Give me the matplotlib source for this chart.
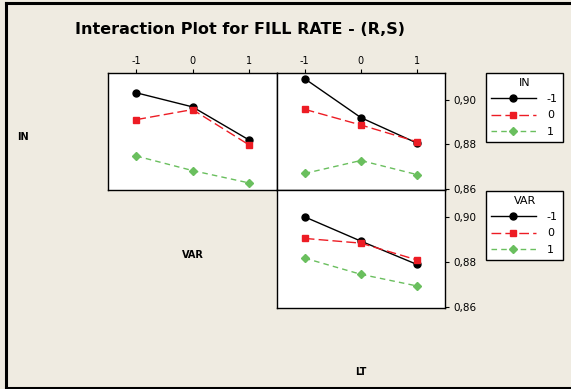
import matplotlib
matplotlib.use('Agg')
import matplotlib.pyplot as plt
from matplotlib.lines import Line2D
from matplotlib.ticker import FuncFormatter

plt.rcParams['axes.unicode_minus'] = False

# niveis dos fatores
niveis = [-1, 0, 1]

# FILL RATE medio: linhas = nivel de IN, eixo x = VAR
in_var_m1 = [0.9030, 0.8967, 0.8820]
in_var_0 = [0.8910, 0.8955, 0.8798]
in_var_p1 = [0.8747, 0.8682, 0.8627]

# linhas = nivel de IN, eixo x = LT
in_lt_m1 = [0.9093, 0.8919, 0.8805]
in_lt_0 = [0.8956, 0.8886, 0.8811]
in_lt_p1 = [0.8669, 0.8727, 0.8664]

# linhas = nivel de VAR, eixo x = LT
var_lt_m1 = [0.9000, 0.8892, 0.8788]
var_lt_0 = [0.8904, 0.8883, 0.8808]
var_lt_p1 = [0.8816, 0.8744, 0.8692]

W, H = 571, 389
fundo = '#efebe1'
estilos = [
    dict(color='black', marker='o', linestyle='-', markersize=5),
    dict(color='#ed1c24', marker='s', linestyle=(0, (7, 3)), markersize=5),
    dict(color='#6abf5e', marker='D', linestyle=(0, (4, 3)), markersize=4.5),
]


def caixa(x0, y0, x1, y1):
    return [x0 / W, 1 - y1 / H, (x1 - x0) / W, (y1 - y0) / H]


def virgula(v, pos):
    return ('%.2f' % v).replace('.', ',')


def painel(rect, series, topo, direita):
    ax = fig.add_axes(rect)
    for vals, st in zip(series, estilos):
        ax.plot(niveis, vals, linewidth=1, **st)
    ax.set_xlim(-1.5, 1.5)
    ax.set_ylim(0.8595, 0.912)
    ax.set_facecolor('white')
    for s in ax.spines.values():
        s.set_linewidth(1)
    ax.xaxis.tick_top()
    ax.set_xticks(niveis)
    ax.tick_params(axis='x', labelsize=7, length=3, pad=2)
    if not topo:
        ax.set_xticks([])
    ax.yaxis.tick_right()
    ax.set_yticks([0.86, 0.88, 0.90])
    ax.yaxis.set_major_formatter(FuncFormatter(virgula))
    ax.tick_params(axis='y', labelsize=7.5, length=3, pad=3)
    if not direita:
        ax.set_yticks([])
    return ax


fig = plt.figure(figsize=(W / 100, H / 100), dpi=100)
fig.patch.set_facecolor(fundo)

painel(caixa(108.3, 72.7, 276.7, 190), [in_var_m1, in_var_0, in_var_p1], True, False)
painel(caixa(276.7, 72.7, 445, 190), [in_lt_m1, in_lt_0, in_lt_p1], True, True)
painel(caixa(276.7, 190, 445, 307.7), [var_lt_m1, var_lt_0, var_lt_p1], False, True)

# legendas
alcas = [Line2D([], [], linewidth=1, **st) for st in estilos]
for titulo, y in [('IN', 72.7), ('VAR', 190.7)]:
    leg = fig.legend(alcas, ['-1', '0', '1'], title=titulo, loc='upper left',
                     bbox_to_anchor=(485.7 / W, 1 - y / H), fontsize=8,
                     title_fontsize=8, frameon=True, fancybox=False,
                     edgecolor='black', framealpha=1, handlelength=4,
                     borderpad=0.5, labelspacing=0.55, handletextpad=1.0,
                     borderaxespad=0, alignment='center')
    leg.get_frame().set_linewidth(1)
    leg.get_frame().set_facecolor('white')

fig.text(75 / W, 1 - 30 / H, 'Interaction Plot for FILL RATE - (R,S)',
         fontsize=11.5, fontweight='bold', va='center', ha='left')
fig.text(23 / W, 1 - 137 / H, 'IN', fontsize=7, fontweight='bold', ha='center', va='center')
fig.text(193 / W, 1 - 255 / H, 'VAR', fontsize=7, fontweight='bold', ha='center', va='center')
fig.text(361 / W, 1 - 372 / H, 'LT', fontsize=7, fontweight='bold', ha='center', va='center')

# moldura
fig.add_artist(Line2D([6 / W, 6 / W], [0, 1 - 3 / H], color='black', linewidth=2.2))
fig.add_artist(Line2D([6 / W, 1], [1 - 3 / H, 1 - 3 / H], color='black', linewidth=2.2))
fig.add_artist(Line2D([6 / W, 1], [1.5 / H, 1.5 / H], color='black', linewidth=2.2))

plt.savefig('out.png', dpi=100, facecolor=fundo)
